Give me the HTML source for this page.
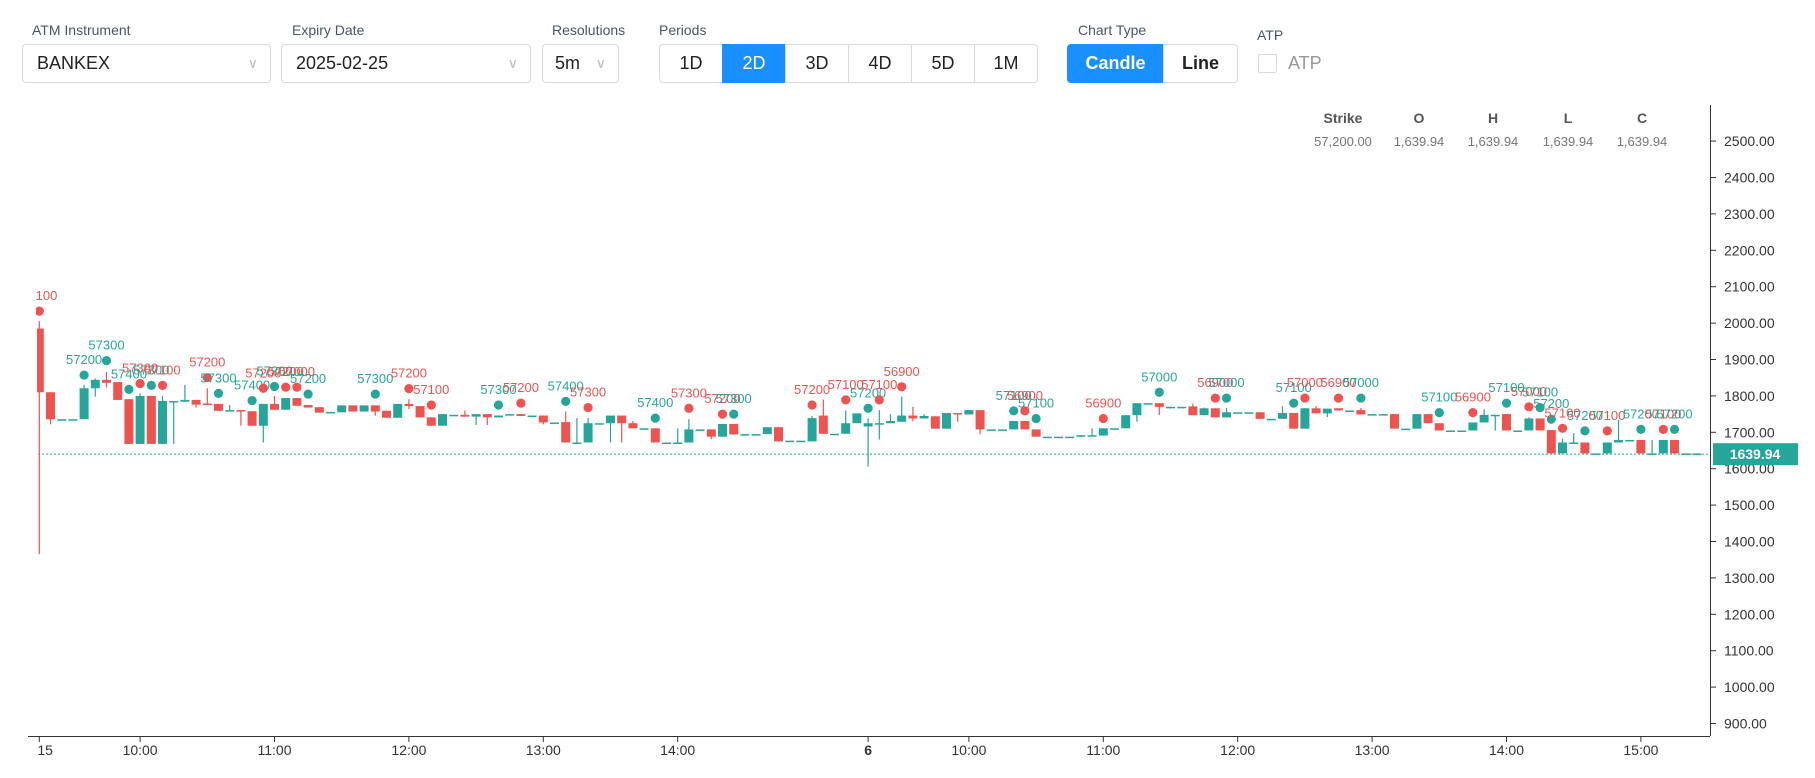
<!DOCTYPE html>
<html><head><meta charset="utf-8">
<style>
body{margin:0;background:#fff;font-family:"Liberation Sans",sans-serif;}
#wrap{position:relative;width:1815px;height:778px;overflow:hidden;background:#fff;}
.lbl{position:absolute;top:22px;font-size:14px;color:#4a5568;}
.sel{position:absolute;top:44px;height:39px;border:1px solid #d9d9d9;border-radius:4px;box-sizing:border-box;font-size:18px;color:#222;line-height:37px;padding-left:14px;}
.sel .ar{position:absolute;right:12px;top:0;color:#bbb;font-size:14px;}
.btn{position:absolute;top:44px;height:39px;border:1px solid #d9d9d9;box-sizing:border-box;font-size:18px;line-height:37px;text-align:center;color:#222;}
.act{background:#1890ff;color:#fff;border-color:#1890ff;}
</style></head><body>
<div id="wrap">
<div class="lbl" style="left:32px">ATM Instrument</div>
<div class="sel" style="left:22px;width:249px">BANKEX<span class="ar">∨</span></div>
<div class="lbl" style="left:292px">Expiry Date</div>
<div class="sel" style="left:281px;width:250px">2025-02-25<span class="ar">∨</span></div>
<div class="lbl" style="left:552px">Resolutions</div>
<div class="sel" style="left:542px;width:77px;padding-left:12px">5m<span class="ar">∨</span></div>
<div class="lbl" style="left:659px">Periods</div>
<div class="btn" style="left:659px;width:64px;border-radius:4px 0 0 4px">1D</div>
<div class="btn act" style="left:722px;width:64px">2D</div>
<div class="btn" style="left:785px;width:64px">3D</div>
<div class="btn" style="left:848px;width:64px">4D</div>
<div class="btn" style="left:911px;width:64px">5D</div>
<div class="btn" style="left:974px;width:64px;border-radius:0 4px 4px 0">1M</div>
<div class="lbl" style="left:1078px">Chart Type</div>
<div class="btn act" style="left:1067px;width:97px;border-radius:4px 0 0 4px;font-weight:bold">Candle</div>
<div class="btn" style="left:1163px;width:75px;border-radius:0 4px 4px 0;font-weight:bold">Line</div>
<div class="lbl" style="left:1257px;top:27px">ATP</div>
<div style="position:absolute;left:1258px;top:54px;width:19px;height:19px;border:1px solid #d9d9d9;border-radius:2px;box-sizing:border-box"></div>
<div style="position:absolute;left:1288px;top:53px;font-size:18px;color:#999">ATP</div>
<svg id="chart" width="1815" height="778" style="position:absolute;left:0;top:0"></svg>
</div>
<script>
const opens=[1985,1810,1736,1736,1736,1821,1844,1838,1791,1668,1800,1668,1786,1784,1789,1779,1778,1759,1761,1758,1718,1778,1762,1794,1775,1769,1756,1755,1774,1757,1774,1759,1740,1778,1772,1741,1718,1748,1748,1743,1750,1741,1746,1750,1746,1746,1727,1728,1672,1672,1725,1725,1746,1725,1711,1711,1672,1672,1672,1708,1708,1688,1723,1695,1695,1695,1714,1677,1677,1675,1746,1696,1696,1725,1716,1725,1725,1729,1746,1738,1744,1710,1753,1749,1761,1708,1708,1708,1731,1708,1688,1688,1688,1688,1692,1691,1711,1711,1747,1780,1780,1770,1770,1771,1747,1766,1741,1755,1755,1755,1737,1737,1753,1710,1766,1752,1766,1760,1761,1750,1750,1750,1710,1710,1750,1725,1705,1705,1705,1727,1748,1750,1705,1705,1738,1706,1642,1672,1672,1642,1642,1672,1679,1679,1642,1642,1679,1642,1642];
const closes=[1810,1736,1736,1736,1821,1844,1836,1789,1668,1800,1668,1786,1786,1789,1776,1777,1759,1761,1757,1718,1778,1762,1794,1773,1768,1754,1756,1774,1757,1774,1757,1740,1778,1772,1741,1718,1750,1748,1743,1750,1741,1746,1750,1745,1746,1727,1727,1672,1672,1725,1725,1746,1725,1711,1711,1672,1672,1672,1708,1708,1688,1723,1694,1695,1695,1714,1675,1677,1677,1739,1696,1696,1725,1752,1725,1725,1731,1746,1738,1745,1710,1753,1749,1761,1708,1708,1708,1731,1708,1688,1688,1688,1688,1692,1692,1711,1711,1747,1780,1780,1770,1770,1770,1747,1766,1741,1755,1755,1755,1737,1737,1753,1710,1766,1752,1765,1760,1760,1749,1750,1750,1710,1710,1750,1725,1705,1705,1705,1727,1748,1748,1705,1705,1738,1705,1642,1672,1672,1642,1642,1672,1679,1679,1642,1642,1679,1642,1642,1642];
const highs=[2005,1810,1736,1736,1830,1848,1866,1838,1791,1807,1800,1800,1786,1830,1789,1821,1778,1775,1761,1758,1778,1800,1794,1794,1775,1769,1756,1774,1774,1774,1774,1759,1778,1791,1772,1741,1750,1748,1760,1750,1750,1746,1750,1750,1746,1746,1727,1757,1739,1739,1725,1746,1746,1731,1711,1711,1672,1711,1736,1708,1708,1723,1723,1695,1695,1714,1714,1677,1677,1745,1790,1696,1760,1752,1738,1761,1750,1798,1770,1750,1744,1753,1753,1761,1761,1708,1708,1731,1731,1708,1688,1688,1688,1692,1711,1711,1711,1747,1780,1780,1780,1770,1770,1779,1768,1766,1767,1755,1755,1755,1737,1772,1753,1766,1772,1765,1766,1760,1767,1750,1750,1750,1710,1750,1750,1725,1705,1705,1727,1763,1748,1750,1705,1741,1738,1706,1683,1698,1672,1642,1672,1734,1679,1679,1679,1679,1679,1642,1642];
const lows=[1365,1722,1736,1736,1736,1798,1823,1789,1668,1668,1668,1668,1668,1784,1768,1777,1759,1759,1718,1718,1672,1762,1762,1773,1768,1754,1756,1755,1757,1757,1746,1740,1740,1764,1741,1718,1718,1748,1743,1720,1720,1741,1746,1745,1746,1722,1727,1672,1672,1672,1725,1672,1672,1711,1711,1672,1672,1672,1672,1708,1681,1688,1694,1695,1695,1695,1675,1677,1677,1675,1696,1696,1696,1725,1606,1680,1725,1729,1730,1738,1710,1710,1729,1749,1695,1708,1708,1708,1708,1688,1688,1688,1688,1688,1692,1691,1711,1711,1729,1780,1748,1765,1770,1747,1747,1741,1741,1755,1755,1737,1737,1737,1710,1710,1752,1742,1760,1760,1749,1750,1750,1710,1710,1710,1725,1705,1705,1705,1705,1727,1705,1705,1705,1705,1705,1642,1642,1672,1642,1642,1642,1672,1679,1642,1642,1642,1642,1642,1642];
const markerBars=[0,4,6,8,9,10,11,15,16,19,20,21,22,23,24,30,33,35,41,43,47,49,55,58,61,62,69,72,74,75,77,87,88,89,95,100,105,106,112,113,116,118,125,128,131,133,134,135,136,138,140,143,145,146];
const markerPrices=[2033,1857,1897,1818,1834,1829,1829,1850,1807,1787,1821,1826,1824,1824,1805,1805,1820,1775,1775,1780,1785,1768,1739,1766,1750,1750,1775,1789,1766,1789,1825,1759,1759,1738,1738,1810,1794,1794,1780,1794,1794,1794,1754,1754,1780,1770,1768,1736,1711,1704,1704,1708,1708,1708];
const markerLabels=["57100","57200","57300","57400","57300","57300","57100","57200","57300","57400","57200","57300","57200","57000","57200","57300","57200","57100","57300","57200","57400","57300","57400","57300","57200","57300","57200","57100","57200","57100","56900","57100","56900","57100","56900","57000","56900","57000","57100","57000","56900","57000","57100","56900","57100","57000","57100","57200","57100","57200","57100","57200","57100","57200"];
const markerUp=[0,1,1,1,0,1,0,0,1,1,0,1,0,0,1,1,0,0,1,0,1,0,1,0,0,1,0,0,1,0,0,1,0,1,0,1,0,1,1,0,0,1,1,0,1,0,1,1,0,1,0,1,0,1];
const yTicks=[900,1000,1100,1200,1300,1400,1500,1600,1700,1800,1900,2000,2100,2200,2300,2400,2500];
const xTickBars=[0,9,21,33,45,57,74,83,95,107,119,131,143];
const xTickLabels=["9:15","10:00","11:00","12:00","13:00","14:00","6","10:00","11:00","12:00","13:00","14:00","15:00"];
const lastPrice=1639.94;

const G='#26a69a',R='#ef5350',NS='http://www.w3.org/2000/svg';
const svg=document.getElementById('chart');
const X=i=>39.3+i*11.2;
const Y=p=>432.3-(p-1700)*0.364;
const AX=1710;
function mk(tag,attrs,parent){const e=document.createElementNS(NS,tag);for(const k in attrs)e.setAttribute(k,attrs[k]);(parent||svg).appendChild(e);return e;}
const defs=mk('defs',{});const cp=mk('clipPath',{id:'cp'},defs);mk('rect',{x:37,y:100,width:AX-37,height:640},cp);
// axes
const yaxis=mk('line',{x1:AX+0.5,y1:105,x2:AX+0.5,y2:736,stroke:'#333','stroke-width':1});


const xaxis=mk('line',{x1:28,y1:736.5,x2:AX,y2:736.5,stroke:'#333','stroke-width':1});


yTicks.forEach(v=>{
  const y=Y(v);
  mk('line',{x1:AX,y1:y,x2:AX+6,y2:y,stroke:'#333'});
  const t=mk('text',{x:1724,y:y+5,'font-size':14,fill:'#333'});t.textContent=v.toFixed(2);
  
  
});
xTickBars.forEach((b,k)=>{
  const x=X(b);
  mk('line',{x1:x,y1:736,x2:x,y2:742,stroke:'#333'});
  const t=mk('text',{x:x,y:755,'font-size':14,fill:'#333','text-anchor':'middle','font-weight':xTickLabels[k]==='6'?'bold':'normal','clip-path':'url(#cp2)'});t.textContent=xTickLabels[k];
  
  
});
const cp2=mk('clipPath',{id:'cp2'},defs);mk('rect',{x:36,y:0,width:1800,height:778},cp2);
// last price line
const ly=Y(lastPrice);
const pl=mk('line',{x1:38,y1:ly,x2:AX,y2:ly,stroke:G,'stroke-dasharray':'2,2','stroke-width':1});


// candles
const g=mk('g',{'clip-path':'url(#cp)'});
opens.forEach((o,i)=>{
  const c=closes[i],col=c>=o?G:R,x=X(i);
  mk('line',{x1:x,y1:Y(highs[i]),x2:x,y2:Y(lows[i]),stroke:col,'stroke-width':1.2},g);
  const top=Y(Math.max(o,c)),h=Math.max(1.5,Y(Math.min(o,c))-top);
  const r=mk('rect',{x:x-4.5,y:top,width:9,height:h,fill:col},g);
  
  
});
// markers
const mg=mk('g',{'clip-path':'url(#cp2)'});
markerBars.forEach((b,k)=>{
  const col=markerUp[k]?G:R,x=X(b),y=Y(markerPrices[k]);
  const d=mk('circle',{cx:x,cy:y,r:4.6,fill:col},mg);
  
  
  const t=mk('text',{x:x,y:y-11,'font-size':13,fill:col,'text-anchor':'middle'},mg);t.textContent=markerLabels[k];
  
  
});
// price label
const pb=mk('rect',{x:AX+3,y:ly-11,width:85,height:22,fill:G});


const pt=mk('text',{x:AX+45,y:ly+5,'font-size':14,fill:'#fff','text-anchor':'middle','font-weight':'bold'});pt.textContent=lastPrice.toFixed(2);
// legend
const legH=['Strike','O','H','L','C'],legV=['57,200.00','1,639.94','1,639.94','1,639.94','1,639.94'],legX=[1343,1419,1493,1568,1642];
legH.forEach((h,k)=>{
  const a=mk('text',{x:legX[k],y:123,'font-size':14,fill:'#555','text-anchor':'middle','font-weight':'bold'});a.textContent=h;
  
  
  const b=mk('text',{x:legX[k],y:146,'font-size':13,fill:'#777','text-anchor':'middle'});b.textContent=legV[k];
  
  
});
</script>
</body></html>
